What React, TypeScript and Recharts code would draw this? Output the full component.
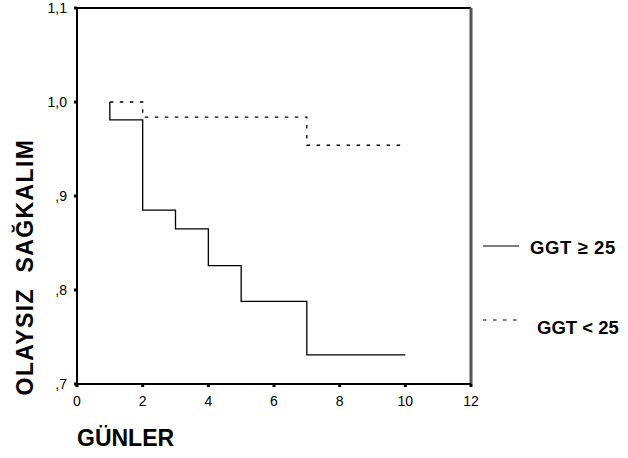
import React from 'react';
import { LineChart, Line, XAxis, YAxis, ReferenceLine } from 'recharts';

// Kaplan-Meier steps (day, survival)
const highDays = [1, 1, 2, 3, 4, 5, 7, 10];
const highSurv = [1.0, 0.981, 0.885, 0.865, 0.826, 0.788, 0.731, 0.731];
const lowDays = [1, 2, 7, 10];
const lowSurv = [1.0, 0.984, 0.954, 0.954];

const xTicks = [0, 2, 4, 6, 8, 10, 12];
const yTicks = [0.7, 0.8, 0.9, 1.0, 1.1];
const legendNames = ['GGT ≥ 25', 'GGT < 25'];

const highData = highDays.map((d, i) => ({ day: d, surv: highSurv[i] }));
const lowData = lowDays.map((d, i) => ({ day: d, surv: lowSurv[i] }));

const font = '"Liberation Sans", Arial, sans-serif';
const dash = '3.5 6.5';

const fmtY = (v: number) => {
  const s = v.toFixed(1).replace('.', ',');
  return s.startsWith('0') ? s.slice(1) : s;
};

const YTitle = () => (
  <text
    x={33}
    y={267}
    transform="rotate(-90 33 267)"
    textAnchor="middle"
    fontFamily={font}
    fontWeight="bold"
    fontSize={23}
    letterSpacing={1.4}
    fill="#000"
  >
    {'OLAYSIZ\u00A0\u00A0SAĞKALIM'}
  </text>
);

const LegendBox = () => (
  <svg
    width={150}
    height={110}
    style={{ position: 'absolute', left: 477, top: 230, fontFamily: font }}
  >
    <line x1={6} x2={42} y1={16} y2={16} stroke="#000" strokeWidth={1.2} />
    <text x={53} y={24} fontSize={18.5} fontWeight="bold" letterSpacing={0.6} fill="#000">{legendNames[0]}</text>
    <line x1={6} x2={42} y1={90} y2={90} stroke="#000" strokeWidth={1.2} strokeDasharray={dash} />
    <text x={60} y={104} fontSize={18.5} fontWeight="bold" fill="#000">{legendNames[1]}</text>
  </svg>
);

const App: React.FC = () => {
  return (
    <div style={{ position: 'absolute', left: 0, top: 0, width: 628, height: 458, background: '#fff' }}>
      <LineChart
        width={628}
        height={458}
        margin={{ top: 8, right: 157, bottom: 44, left: 0 }}
        style={{ fontFamily: font }}
      >
        <XAxis
          type="number"
          dataKey="day"
          domain={[0, 12]}
          ticks={xTicks}
          allowDuplicatedCategory={false}
          stroke="#000"
          strokeWidth={2}
          tickSize={3}
          tickLine={{ stroke: '#000', strokeWidth: 3 }}
          tick={{ fill: '#000', fontSize: 14 }}
          tickMargin={9}
          label={{
            value: 'GÜNLER',
            position: 'insideBottomLeft',
            offset: 0,
            dy: 32,
            fill: '#000',
            fontSize: 23,
            fontWeight: 'bold',
          }}
        />
        <YAxis
          type="number"
          dataKey="surv"
          domain={[0.7, 1.1]}
          ticks={yTicks}
          width={77}
          stroke="#000"
          strokeWidth={2}
          tickSize={3}
          tickLine={{ stroke: '#000', strokeWidth: 3 }}
          tick={{ fill: '#000', fontSize: 14 }}
          tickMargin={7}
          tickFormatter={fmtY}
          label={<YTitle />}
        />
        <ReferenceLine y={1.1} stroke="#000" strokeWidth={2} />
        <ReferenceLine x={12} stroke="#555" strokeWidth={3} />
        <Line
          data={highData}
          dataKey="surv"
          type="stepAfter"
          stroke="#000"
          strokeWidth={1.3}
          dot={false}
          isAnimationActive={false}
        />
        <Line
          data={lowData}
          dataKey="surv"
          type="stepAfter"
          stroke="#000"
          strokeWidth={1.3}
          strokeDasharray={dash}
          dot={false}
          isAnimationActive={false}
        />
      </LineChart>
      <LegendBox />
    </div>
  );
};

export default App;
